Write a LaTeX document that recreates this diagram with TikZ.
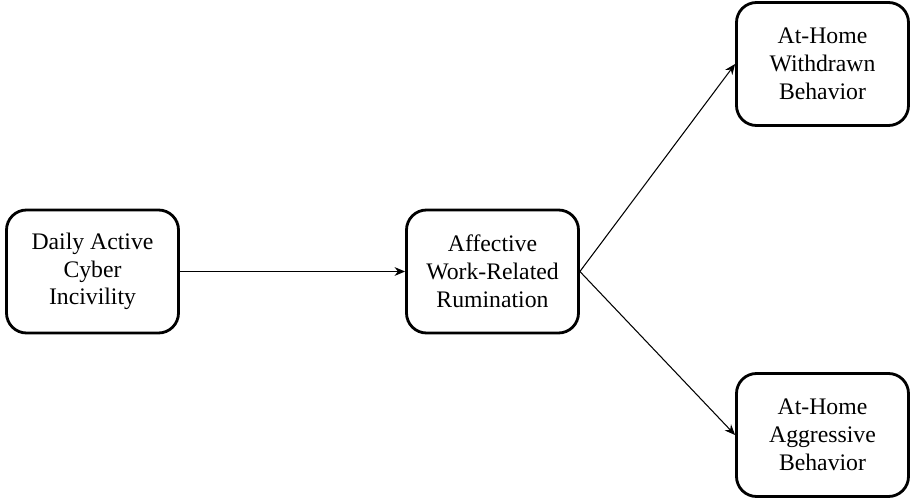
\documentclass[tikz,border=0pt]{standalone}
\usepackage{fontspec}
\setmainfont{Liberation Serif}
\usetikzlibrary{arrows.meta}
\begin{document}
\begin{tikzpicture}[box/.style={draw,line width=1.6pt,rounded corners=0.4cm,minimum width=3.44cm,minimum height=2.46cm,align=center,font=\fontsize{13.5}{15.8}\selectfont},
                    link/.style={-{Stealth[length=6pt,width=5pt]},line width=0.6pt}]
                  \useasboundingbox (0,0) rectangle (18.24,9.98);
                  \node[box] (cyber) at (1.85,4.55) {Daily Active\\Cyber\\Incivility};
                  \node[box] (rum) at (9.85,4.55) {Affective\\Work-Related\\Rumination};
                  \node[box] (withd) at (16.45,8.70) {At-Home\\Withdrawn\\Behavior};
                  \node[box] (aggr) at (16.45,1.28) {At-Home\\Aggressive\\Behavior};
                    \draw[link] (cyber) -- (rum);
                      \draw[link] (rum.east) -- (withd.west);
                        \draw[link] (rum.east) -- (aggr.west);
        \end{tikzpicture}
\end{document}
